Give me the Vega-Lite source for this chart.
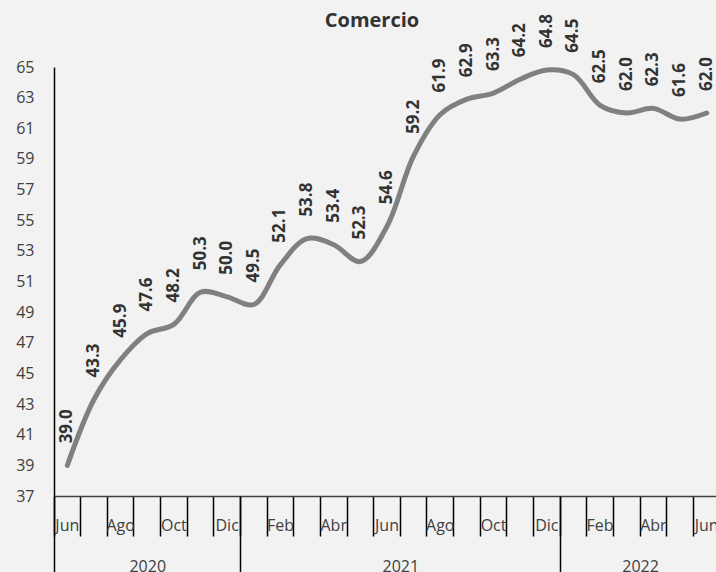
{
  "$schema": "https://vega.github.io/schema/vega-lite/v6.json",
  "width": 666,
  "height": 429,
  "autosize": {"type": "none"},
  "padding": {"left": 54, "top": 67, "right": 0, "bottom": 76},
  "background": "#f2f2f2",
  "title": {"text": "Comercio", "font": "Open Sans", "fontSize": 20, "fontWeight": "bold", "color": "#333333", "anchor": "middle", "dx": -15, "offset": -17},
  "config": {"view": {"stroke": null}, "font": "Open Sans"},
  "layer": [
    {
      "data": {"values": [
        {"mes": "Jun-20", "valor": 39.0},
        {"mes": "Jul-20", "valor": 43.3},
        {"mes": "Ago-20", "valor": 45.9},
        {"mes": "Sep-20", "valor": 47.6},
        {"mes": "Oct-20", "valor": 48.2},
        {"mes": "Nov-20", "valor": 50.3},
        {"mes": "Dic-20", "valor": 50.0},
        {"mes": "Ene-21", "valor": 49.5},
        {"mes": "Feb-21", "valor": 52.1},
        {"mes": "Mar-21", "valor": 53.8},
        {"mes": "Abr-21", "valor": 53.4},
        {"mes": "May-21", "valor": 52.3},
        {"mes": "Jun-21", "valor": 54.6},
        {"mes": "Jul-21", "valor": 59.2},
        {"mes": "Ago-21", "valor": 61.9},
        {"mes": "Sep-21", "valor": 62.9},
        {"mes": "Oct-21", "valor": 63.3},
        {"mes": "Nov-21", "valor": 64.2},
        {"mes": "Dic-21", "valor": 64.8},
        {"mes": "Ene-22", "valor": 64.5},
        {"mes": "Feb-22", "valor": 62.5},
        {"mes": "Mar-22", "valor": 62.0},
        {"mes": "Abr-22", "valor": 62.3},
        {"mes": "May-22", "valor": 61.6},
        {"mes": "Jun-22", "valor": 62.0}
      ]},
      "encoding": {
        "x": {
          "field": "mes", "type": "ordinal", "sort": null,
          "scale": {"type": "band", "paddingInner": 0, "paddingOuter": 0},
          "axis": {
            "orient": "bottom", "title": null, "grid": false,
            "bandPosition": 0, "tickSize": 40, "tickColor": "#000000", "tickWidth": 1.5,
            "domainColor": "#404040", "domainWidth": 1.5,
            "labelPadding": -19, "labelAngle": 0,
            "labelExpr": "indexof(['Jun','Ago','Oct','Dic','Feb','Abr'], slice(datum.value,0,3)) >= 0 ? slice(datum.value,0,3) : ''",
            "labelFontSize": 16, "labelColor": "#404040", "labelOverlap": false, "labelBound": false
          }
        },
        "y": {
          "field": "valor", "type": "quantitative",
          "scale": {"domain": [37, 65], "nice": false, "zero": false},
          "axis": {
            "title": null, "grid": false, "values": [37,39,41,43,45,47,49,51,53,55,57,59,61,63,65],
            "ticks": false, "tickSize": 0, "labelPadding": 20,
            "domainColor": "#000000", "domainWidth": 1.5,
            "labelFontSize": 16, "labelColor": "#404040"
          }
        }
      },
      "layer": [
        {"mark": {"type": "line", "interpolate": "catmull-rom", "color": "#808080", "strokeWidth": 5, "strokeCap": "round"}},
        {
          "mark": {"type": "text", "angle": 270, "align": "left", "baseline": "middle", "dx": 22, "fontWeight": "bold", "fontSize": 17, "color": "#333333"},
          "encoding": {"text": {"field": "valor", "type": "quantitative", "format": ".1f"}}
        }
      ]
    },
    {
      "data": {"values": [{"pos": 0}, {"pos": 3.5}, {"pos": 7}, {"pos": 13}, {"pos": 19}, {"pos": 22}]},
      "mark": {"type": "point", "opacity": 0},
      "encoding": {
        "x": {
          "field": "pos", "type": "quantitative",
          "scale": {"domain": [0, 25], "nice": false, "zero": false},
          "axis": {
            "orient": "bottom", "title": null, "grid": false, "domain": false,
            "values": [0, 3.5, 7, 13, 19, 22],
            "tickSize": 76, "tickColor": "#000000", "tickWidth": 1.5,
            "tickOpacity": {"condition": {"test": "datum.value == 0 || datum.value == 7 || datum.value == 19", "value": 1}, "value": 0},
            "labelExpr": "datum.value == 3.5 ? '2020' : datum.value == 13 ? '2021' : datum.value == 22 ? '2022' : ''",
            "labelPadding": -14, "labelFontSize": 16, "labelColor": "#404040",
            "labelFlush": false, "labelOverlap": false, "labelAngle": 0
          }
        }
      }
    }
  ],
  "resolve": {"scale": {"x": "independent"}, "axis": {"x": "independent"}}
}
